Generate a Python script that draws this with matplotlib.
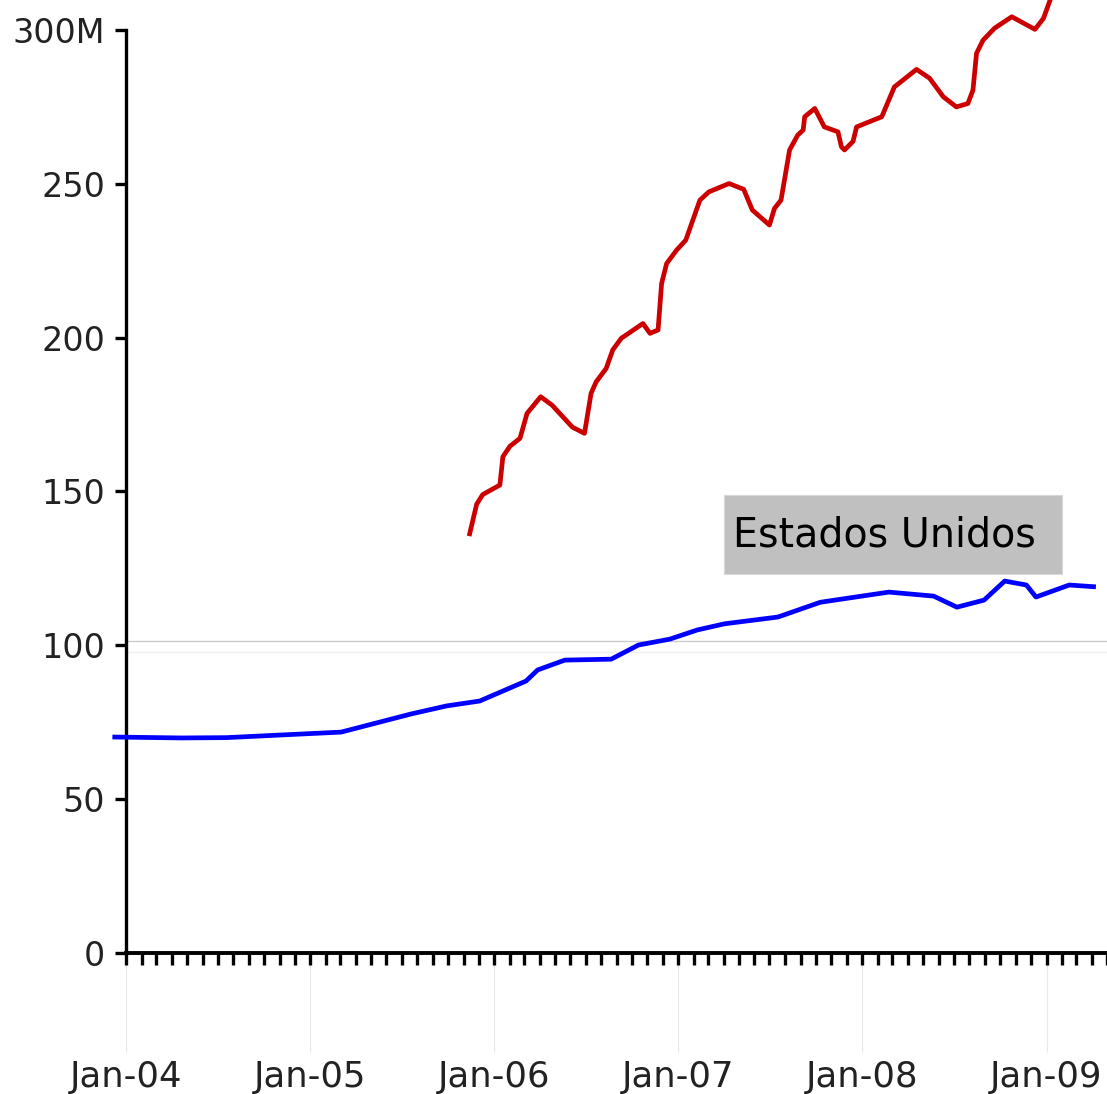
import matplotlib

matplotlib.use('Agg')
import matplotlib.pyplot as plt
import matplotlib.dates as mdates
from matplotlib.patches import Rectangle
import numpy as np

# blue series (Estados Unidos), values in millions
us_dates = ['2003-12-05', '2004-04-20', '2004-07-18', '2005-03-03', '2005-07-20',
            '2005-09-28', '2005-12-03', '2006-03-05', '2006-03-28', '2006-05-21',
            '2006-08-21', '2006-10-14', '2006-12-15', '2007-02-08', '2007-04-03',
            '2007-07-18', '2007-10-10', '2008-02-23', '2008-05-22', '2008-07-07',
            '2008-08-30', '2008-10-10', '2008-11-22', '2008-12-11', '2009-02-15',
            '2009-04-09']
us_values = [70.2, 69.9, 70.0, 71.8, 77.7, 80.3, 81.9, 88.4, 92.0, 95.2,
             95.5, 100.1, 102.0, 105.0, 107.0, 109.2, 114.0, 117.3, 116.0, 112.4,
             114.7, 120.9, 119.6, 115.7, 119.6, 119.0]

# red series
red_dates = ['2005-11-12', '2005-11-27', '2005-12-09', '2006-01-12', '2006-01-18',
             '2006-02-01', '2006-02-21', '2006-03-07', '2006-04-03', '2006-04-26',
             '2006-06-05', '2006-06-29', '2006-07-12', '2006-07-22', '2006-08-11',
             '2006-08-24', '2006-09-10', '2006-10-23', '2006-11-06', '2006-11-22',
             '2006-11-29', '2006-12-09', '2006-12-29', '2007-01-16', '2007-02-13',
             '2007-03-03', '2007-04-12', '2007-05-11', '2007-05-28', '2007-07-01',
             '2007-07-11', '2007-07-24', '2007-08-10', '2007-08-26', '2007-09-06',
             '2007-09-09', '2007-09-29', '2007-10-18', '2007-11-14', '2007-11-21',
             '2007-11-27', '2007-12-14', '2007-12-21', '2008-02-09', '2008-03-05',
             '2008-04-18', '2008-05-14', '2008-06-10', '2008-07-06', '2008-07-29',
             '2008-08-08', '2008-08-15', '2008-08-28', '2008-09-20', '2008-10-24',
             '2008-12-09', '2008-12-26', '2009-01-08', '2009-01-24']
red_values = [135.5, 145.9, 149.0, 152.1, 161.3, 164.7, 167.3, 175.4, 180.8, 178.0,
              170.9, 168.9, 181.9, 185.6, 190.0, 196.0, 199.8, 204.6, 201.4, 202.5,
              217.6, 224.1, 228.5, 231.7, 244.7, 247.4, 250.1, 248.2, 241.5, 236.6,
              242.0, 244.7, 261.0, 265.8, 267.5, 271.8, 274.5, 268.5, 266.9, 262.0,
              261.0, 263.8, 268.5, 271.8, 281.5, 287.2, 284.3, 278.3, 275.0, 276.1,
              280.5, 292.4, 296.7, 300.6, 304.3, 300.2, 303.8, 309.7, 318.0]

y_ticks = [0, 50, 100, 150, 200, 250, 300]
y_labels = ['0', '50', '100', '150', '200', '250', '300M']
label_text = 'Estados Unidos'

W, H = 1107, 1094
fig = plt.figure(figsize=(W / 100, H / 100), dpi=100)
ax = fig.add_axes([126 / W, 141 / H, (W - 126) / W, 953 / H])

us_x = mdates.datestr2num(us_dates)
red_x = mdates.datestr2num(red_dates)

ax.axhline(101.4, color='#cccccc', lw=1.0, zorder=1)
ax.axhline(97.8, color='#eeeeee', lw=1.0, zorder=1)

ax.plot(us_x, us_values, color='#0000ff', lw=3.4, solid_joinstyle='round',
        solid_capstyle='butt', clip_on=False, zorder=3)
ax.plot(red_x, red_values, color='#cc0000', lw=3.4, solid_joinstyle='round',
        solid_capstyle='butt', zorder=3)

ax.set_xlim(mdates.datestr2num('2004-01-01'), mdates.datestr2num('2009-05-01'))
ax.set_ylim(0, 953 / 3.0767)

for s in ['top', 'right']:
    ax.spines[s].set_visible(False)
ax.spines['left'].set_bounds(0, 300)
ax.spines['left'].set_linewidth(2.4)
ax.spines['bottom'].set_linewidth(2.8)

ax.set_yticks(y_ticks)
ax.set_yticklabels(y_labels)
ax.tick_params(axis='y', direction='out', length=8, width=2.4, pad=7,
               labelsize=24, labelcolor='#222222')

ax.xaxis.set_major_locator(mdates.YearLocator())
ax.xaxis.set_major_formatter(mdates.DateFormatter('%b-%y'))
ax.xaxis.set_minor_locator(mdates.MonthLocator())
ax.xaxis.remove_overlapping_locs = False
ax.tick_params(axis='x', which='major', direction='out', length=71, width=0.8,
               color='#e8e8e8', pad=6, labelsize=25.5, labelcolor='#222222')
ax.tick_params(axis='x', which='minor', direction='out', length=8.5, width=2.4,
               color='black')

fig.patches.append(Rectangle((724 / W, 1 - 574 / H), 338 / W, 79 / H,
                             transform=fig.transFigure, facecolor='#c0c0c0',
                             edgecolor='#d8d8d8', lw=0.8, zorder=5))
fig.text(733 / W, 1 - 536 / H, label_text, fontsize=28.5, color='black',
         ha='left', va='center', zorder=6)

fig.savefig('out.png', dpi=100)
